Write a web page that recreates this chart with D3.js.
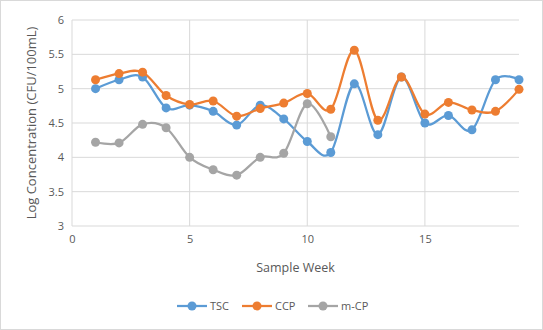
<!DOCTYPE html>
<html>
<head>
<meta charset="utf-8">
<script src="https://cdn.jsdelivr.net/npm/d3@7"></script>
<style>
  body { margin: 0; background: #fff; }
  text { font-family: "Open Sans", "Liberation Sans", sans-serif; fill: #595959; }
</style>
</head>
<body>
<svg id="chart"></svg>
<script>
const weeks = d3.range(1, 20);
const tsc = [5.0, 5.13, 5.17, 4.72, 4.76, 4.67, 4.47, 4.76, 4.56, 4.23, 4.07, 5.07, 4.33, 5.17, 4.5, 4.61, 4.4, 5.13, 5.13];
const ccp = [5.13, 5.22, 5.24, 4.9, 4.77, 4.82, 4.6, 4.71, 4.79, 4.93, 4.7, 5.56, 4.54, 5.17, 4.63, 4.8, 4.69, 4.67, 4.99];
const mcp = [4.22, 4.21, 4.48, 4.43, 4.0, 3.82, 3.74, 4.0, 4.06, 4.78, 4.3];
const xTicks = [0, 5, 10, 15];
const yTicks = [3, 3.5, 4, 4.5, 5, 5.5, 6];

const series = [
    { name: "TSC", values: tsc, color: "#5B9BD5" },
    { name: "CCP", values: ccp, color: "#ED7D31" },
    { name: "m-CP", values: mcp, color: "#A5A5A5" }
];

const width = 543, height = 330;
const margin = { top: 20, right: 24, bottom: 104, left: 72 };

const svg = d3.select("#chart")
    .attr("width", width)
    .attr("height", height)
    .attr("viewBox", [0, 0, width, height]);

svg.append("rect")
    .attr("x", 0.5).attr("y", 0.5)
    .attr("width", width - 1).attr("height", height - 1)
    .attr("fill", "#fff").attr("stroke", "#D9D9D9");

const x = d3.scaleLinear([0, 19], [margin.left, width - margin.right]);
const y = d3.scaleLinear([3, 6], [height - margin.bottom, margin.top]);

// gridlines
svg.append("g")
    .selectAll("line")
    .data(yTicks)
    .join("line")
        .attr("x1", x(0)).attr("x2", x(19))
        .attr("y1", d => y(d)).attr("y2", d => y(d))
        .attr("stroke", "#D9D9D9");

svg.append("g")
    .selectAll("line")
    .data(xTicks)
    .join("line")
        .attr("x1", d => x(d)).attr("x2", d => x(d))
        .attr("y1", y(3)).attr("y2", y(6))
        .attr("stroke", "#D9D9D9");

// axis labels
const yAxis = svg.append("g")
    .attr("transform", `translate(${margin.left - 5}, 0)`)
    .call(d3.axisLeft(y).tickValues(yTicks).tickSize(0).tickFormat(d3.format("")));
yAxis.select(".domain").remove();
yAxis.selectAll("text").attr("font-size", 11).style("font-family", null);

const xAxis = svg.append("g")
    .attr("transform", `translate(0, ${y(3) + 6})`)
    .call(d3.axisBottom(x).tickValues(xTicks).tickSize(0));
xAxis.select(".domain").remove();
xAxis.selectAll("text").attr("font-size", 11).style("font-family", null);

svg.append("text")
    .attr("x", (x(0) + x(19)) / 2)
    .attr("y", 272)
    .attr("text-anchor", "middle")
    .attr("font-size", 12.5)
    .text("Sample Week");

svg.append("text")
    .attr("transform", `translate(36, ${(y(3) + y(6)) / 2}) rotate(-90)`)
    .attr("text-anchor", "middle")
    .attr("font-size", 13)
    .text("Log Concentration (CFU/100mL)");

// lines
const line = d3.line()
    .x((d, i) => x(weeks[i]))
    .y(d => y(d))
    .curve(d3.curveCardinal.tension(0));

series.forEach(s => {
    svg.append("path")
        .attr("d", line(s.values))
        .attr("fill", "none")
        .attr("stroke", s.color)
        .attr("stroke-width", 2.25);

    svg.append("g")
        .selectAll("circle")
        .data(s.values)
        .join("circle")
            .attr("cx", (d, i) => x(weeks[i]))
            .attr("cy", d => y(d))
            .attr("r", 4.5)
            .attr("fill", s.color);
});

// legend
const legendX = [177, 242, 308];
const legend = svg.append("g")
    .selectAll("g")
    .data(series)
    .join("g")
        .attr("transform", (d, i) => `translate(${legendX[i]}, 306)`);

legend.append("line")
    .attr("x1", 0).attr("x2", 30)
    .attr("stroke", d => d.color)
    .attr("stroke-width", 2.25);
legend.append("circle")
    .attr("cx", 15).attr("r", 4.5)
    .attr("fill", d => d.color);
legend.append("text")
    .attr("x", 33).attr("dy", "0.35em")
    .attr("font-size", 11)
    .text(d => d.name);
</script>
</body>
</html>
